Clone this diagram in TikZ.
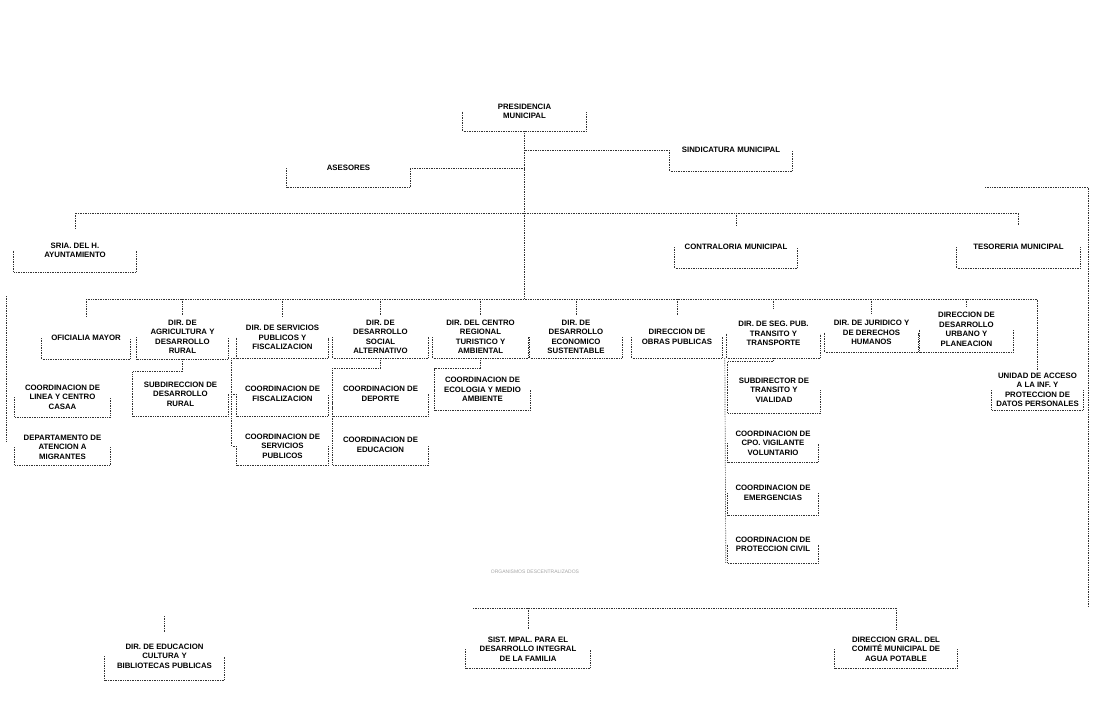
\documentclass[tikz,border=0pt]{standalone}
\usepackage{fontspec}
\setmainfont{Liberation Sans}
\usetikzlibrary{calc}
\tikzset{
  bx/.style={rectangle, inner sep=0pt, align=center, font=\fontsize{7.8}{9.5}\selectfont\bfseries, text=black},
  ln/.style={densely dotted, line width=0.7pt, draw=black!80},
  boxln/.style={densely dotted, line width=0.7pt, draw=black!80},
  faint/.style={font=\fontsize{5}{6}\selectfont, text=black!35}
}
\newcommand\drawob[1]{\draw[boxln] (#1.west) -- (#1.south west) -- (#1.south east) -- (#1.east);}
\begin{document}
\begin{tikzpicture}[x=1pt,y=-1pt]
\useasboundingbox[fill=white] (0,0) rectangle (1094,715);
% ---- top level
\node[bx, minimum width=123, minimum height=39] (pres) at (524.5,111.5) {PRESIDENCIA\\MUNICIPAL};
\node[bx, minimum width=122, minimum height=42] (sind) at (731,150) {SINDICATURA MUNICIPAL};
\node[bx, minimum width=123, minimum height=38] (ases) at (348.5,168) {ASESORES};
\node[bx, minimum width=122, minimum height=43] (sria) at (75,250.5) {SRIA. DEL H.\\AYUNTAMIENTO};
\node[bx, minimum width=122, minimum height=42] (contra) at (736,247) {CONTRALORIA MUNICIPAL};
\node[bx, minimum width=123, minimum height=42] (teso) at (1018.5,247) {TESORERIA MUNICIPAL};
% ---- directions
\node[bx, minimum width=88, minimum height=42] (ofi) at (86,338) {OFICIALIA MAYOR};
\node[bx, minimum width=91, minimum height=44] (agri) at (182.5,337) {DIR. DE\\AGRICULTURA Y\\DESARROLLO\\RURAL};
\node[bx, minimum width=91, minimum height=41] (serv) at (282.5,337.5) {DIR. DE SERVICIOS\\PUBLICOS Y\\FISCALIZACION};
\node[bx, minimum width=95, minimum height=42] (soc) at (380.5,337) {DIR. DE\\DESARROLLO\\SOCIAL\\ALTERNATIVO};
\node[bx, minimum width=95, minimum height=42] (centro) at (480.5,337) {DIR. DEL CENTRO\\REGIONAL\\TURISTICO Y\\AMBIENTAL};
\node[bx, minimum width=92, minimum height=42] (econ) at (576,337) {DIR. DE\\DESARROLLO\\ECONOMICO\\SUSTENTABLE};
\node[bx, minimum width=90, minimum height=42] (obras) at (677,337) {DIRECCION DE\\OBRAS PUBLICAS};
\node[bx, minimum width=93, minimum height=49] (seg) at (773.5,333.5) {DIR. DE SEG. PUB.\\TRANSITO Y\\TRANSPORTE};
\node[bx, minimum width=93, minimum height=39] (jur) at (871.5,332.5) {DIR. DE JURIDICO Y\\DE DERECHOS\\HUMANOS};
\node[bx, minimum width=93, minimum height=45] (urb) at (966.5,329.5) {DIRECCION DE\\DESARROLLO\\URBANO Y\\PLANEACION};
\node[bx, minimum width=91, minimum height=40] (unidad) at (1037.5,390) {UNIDAD DE ACCESO\\A LA INF. Y\\PROTECCION DE\\DATOS PERSONALES};
% ---- sub units
\node[bx, minimum width=95, minimum height=40] (coord1) at (62.5,397) {COORDINACION DE\\LINEA Y CENTRO\\CASAA};
\node[bx, minimum width=95, minimum height=36] (depto) at (62.5,447) {DEPARTAMENTO DE\\ATENCION A\\MIGRANTES};
\node[bx, minimum width=95, minimum height=44] (subdir) at (180.5,394) {SUBDIRECCION DE\\DESARROLLO\\RURAL};
\node[bx, minimum width=91, minimum height=44] (fisc) at (282.5,394) {COORDINACION DE\\FISCALIZACION};
\node[bx, minimum width=91, minimum height=38] (servpub) at (282.5,446) {COORDINACION DE\\SERVICIOS\\PUBLICOS};
\node[bx, minimum width=95, minimum height=44] (deporte) at (380.5,394) {COORDINACION DE\\DEPORTE};
\node[bx, minimum width=95, minimum height=40] (educ) at (380.5,445) {COORDINACION DE\\EDUCACION};
\node[bx, minimum width=95, minimum height=41] (ecol) at (482.5,389.5) {COORDINACION DE\\ECOLOGIA Y MEDIO\\AMBIENTE};
\node[bx, minimum width=92, minimum height=46] (transito) at (774,390) {SUBDIRECTOR DE\\TRANSITO Y\\VIALIDAD};
\node[bx, minimum width=90, minimum height=38] (vigil) at (773,443) {COORDINACION DE\\CPO. VIGILANTE\\VOLUNTARIO};
\node[bx, minimum width=90, minimum height=44] (emerg) at (773,493) {COORDINACION DE\\EMERGENCIAS};
\node[bx, minimum width=90, minimum height=37] (civil) at (773,544.5) {COORDINACION DE\\PROTECCION CIVIL};
% ---- bottom
\node[faint] (org) at (535,572) {ORGANISMOS DESCENTRALIZADOS};
\node[bx, minimum width=119, minimum height=48] (educcult) at (164.5,656) {DIR. DE EDUCACION\\CULTURA Y\\BIBLIOTECAS PUBLICAS};
\node[bx, minimum width=124, minimum height=38] (dif) at (528,649) {SIST. MPAL. PARA EL\\DESARROLLO INTEGRAL\\DE LA FAMILIA};
\node[bx, minimum width=122, minimum height=38] (agua) at (896,649) {DIRECCION GRAL. DEL\\COMIT\'E MUNICIPAL DE\\AGUA POTABLE};
% ---- boxes
\foreach \n in {pres,sind,ases,sria,contra,teso,ofi,agri,serv,soc,centro,econ,obras,seg,jur,urb,unidad,coord1,depto,subdir,fisc,servpub,deporte,educ,ecol,transito,vigil,emerg,civil,educcult,dif,agua}{\drawob{\n}}
% ---- bus coordinates
\coordinate (b1) at (0,213);
\coordinate (b2) at (0,299);
\coordinate (b3) at (0,608);
% ---- connectors
\draw[ln] (pres.south) -- (pres.south |- b2);
\draw[ln] (pres.south |- sind.west) -- (sind.west);
\draw[ln] (ases.east) -- (pres.south |- ases.east);
\draw[ln] (sria.north) -- (sria.north |- b1) -- (teso.north |- b1) -- (teso.north);
\draw[ln] (contra.north |- b1) -- (contra.north);
\draw[ln] (ofi.north |- b2) -- (unidad.north |- b2) -- (unidad.north);
\foreach \n in {ofi,agri,serv,soc,centro,econ,obras,seg,jur,urb}{\draw[ln] (\n.north |- b2) -- (\n.north);}
\draw[ln] (agri.south) |- (subdir.north west) -- (subdir.west);
\draw[ln] (serv.south west) -- ++(-5,0) |- (servpub.west);
\draw[ln] (fisc.west) -- ++(-5,0);
\draw[ln] (soc.south) -- ++(0,10) -| (educ.west);
\draw[ln] (centro.south) |- (ecol.north west) -- (ecol.west);
\draw[ln] (seg.south) -- ++(0,3) -| (transito.west);
\draw[ln] ($(seg.south west)+(-2,0)$) -- ($(civil.south west)+(-2,0)$);
\coordinate (lv1) at (6,296);
\coordinate (lv2) at (6,442);
\draw[ln] (lv1) -- (lv2);
\coordinate (rt1) at (985,187);
\coordinate (rt2) at (1088,606);
\draw[ln] (rt1) -| (rt2);
\coordinate (bl) at (473,608);
\draw[ln] (bl) -- (agua.north |- b3) -- (agua.north);
\draw[ln] (dif.north |- b3) -- (dif.north);
\coordinate (ec) at (164.5,616);
\draw[ln] (ec) -- (educcult.north);
\end{tikzpicture}
\end{document}
